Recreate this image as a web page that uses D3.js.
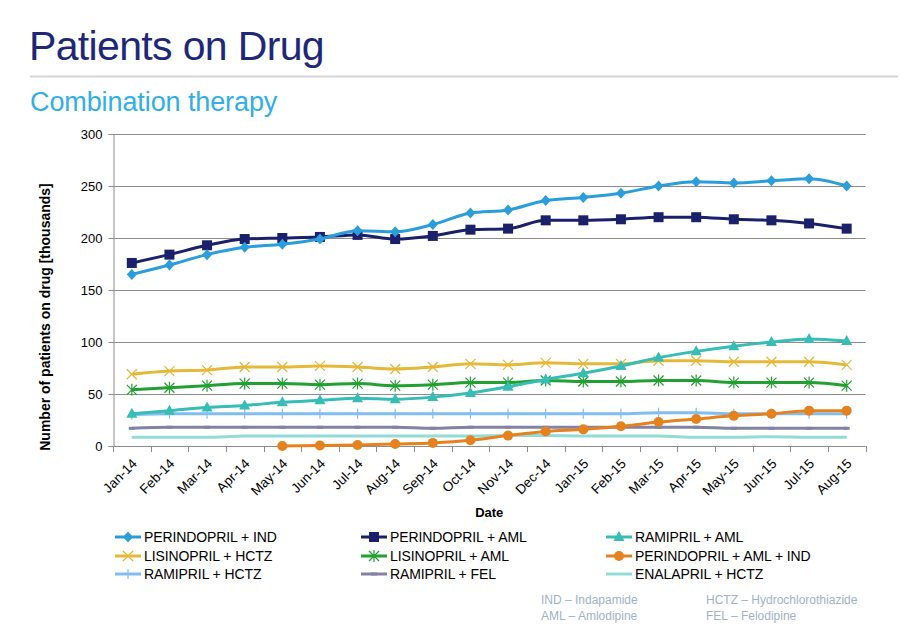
<!DOCTYPE html>
<html><head><meta charset="utf-8">
<script src="https://cdn.jsdelivr.net/npm/d3@7"></script>
<style>body{margin:0;background:#fff;}svg{display:block;font-family:"Liberation Sans",Arial,sans-serif;}</style>
</head><body><svg id="c" width="901" height="632"></svg>
<script>
const months = ["Jan-14","Feb-14","Mar-14","Apr-14","May-14","Jun-14","Jul-14","Aug-14","Sep-14","Oct-14","Nov-14","Dec-14","Jan-15","Feb-15","Mar-15","Apr-15","May-15","Jun-15","Jul-15","Aug-15"];
const yTicks = [0,50,100,150,200,250,300];
const seriesNames = ["PERINDOPRIL + IND","PERINDOPRIL + AML","RAMIPRIL + AML","LISINOPRIL + HCTZ","LISINOPRIL + AML","PERINDOPRIL + AML + IND","RAMIPRIL + HCTZ","RAMIPRIL + FEL","ENALAPRIL + HCTZ"];
const perindoprilInd = [165,174,184,191,194,199,207,206,213,224,227,236,239,243,250,254,253,255,257,250];
const perindoprilAml = [176,184,193,199,200,201,203,199,202,208,209,217,217,218,220,220,218,217,214,209];
const ramiprilAml = [31,34,37,39,42,44,46,45,47,51,57,64,70,77,85,91,96,100,103,101];
const lisinoprilHctz = [69,72,73,76,76,77,76,74,76,79,78,80,79,79,82,82,81,81,81,78];
const lisinoprilAml = [54,56,58,60,60,59,60,58,59,61,61,63,62,62,63,63,61,61,61,58];
const perindoprilAmlInd = [null,null,null,null,0,0.5,1,2,3,5.5,10,14,16,19,23,26,29,31,34,34];
const ramiprilHctz = [30,31,31,31,31,31,31,31,31,31,31,31,31,31,32,32,31,31,31,31];
const ramiprilFel = [17,18,18,18,18,18,18,18,17,18,18,18,18,18,18,18,17,17,17,17];
const enalaprilHctz = [8.5,8.5,8.5,9.5,9.5,9.5,9.5,9.5,9.5,9.5,10,10,9.5,9.5,9.5,8.5,8.5,9,8.5,8.5];
const footnotes = [["IND – Indapamide","AML – Amlodipine"],["HCTZ – Hydrochlorothiazide","FEL – Felodipine"]];

const allValues = [perindoprilInd,perindoprilAml,ramiprilAml,lisinoprilHctz,lisinoprilAml,perindoprilAmlInd,ramiprilHctz,ramiprilFel,enalaprilHctz];
const colors = ["#2a9ddc","#1b206b","#36bdb5","#e6b838","#22a032","#e6821e","#80bdf0","#8282a5","#92dcd7"];
const markers = ["diamond","square","triangle","x","asterisk","circle","vtick","hdash","none"];

const svg = d3.select("#c");
// Title
svg.append("text").attr("x",29).attr("y",60).attr("fill","#1e2878").attr("font-size",41).attr("letter-spacing",-0.65).text("Patients on Drug");
svg.append("line").attr("x1",30).attr("x2",898).attr("y1",76.5).attr("y2",76.5).attr("stroke","#d4d4d4").attr("stroke-width",2);
svg.append("text").attr("x",30).attr("y",111).attr("fill","#30aee8").attr("font-size",27).attr("letter-spacing",-0.1).text("Combination therapy");

const m = {l:113,r:865.5,t:134,b:446};
const x = d3.scaleBand().domain(months).range([m.l,m.r]);
const y = d3.scaleLinear().domain([0,300]).range([m.b,m.t]);

// Grid
svg.append("g").selectAll("line").data(yTicks.filter(d=>d>0)).join("line")
  .attr("x1",m.l).attr("x2",m.r).attr("y1",d=>Math.round(y(d))+0.5).attr("y2",d=>Math.round(y(d))+0.5)
  .attr("stroke","#8c8c8c").attr("stroke-width",1);

// Y axis
const ya = svg.append("g").attr("transform",`translate(${m.l+0.5},0)`)
  .call(d3.axisLeft(y).tickValues(yTicks).tickSize(5).tickPadding(6));
ya.select(".domain").attr("stroke","#8c8c8c");
ya.selectAll(".tick line").attr("stroke","#8c8c8c");
ya.selectAll("text").attr("font-size",13).attr("fill","#000").attr("font-family","Liberation Sans, Arial");

// X axis
const xa = svg.append("g").attr("transform",`translate(0,${m.b+0.5})`)
  .call(d3.axisBottom(x).tickSize(0).tickPadding(0));
xa.select(".domain").attr("stroke","#8c8c8c").attr("d",`M${m.l},0H${m.r}`);
xa.selectAll(".tick text").attr("font-size",13.5).attr("fill","#000").attr("font-family","Liberation Sans, Arial")
  .attr("text-anchor","end").attr("dy",0).attr("y",0)
  .attr("transform",`translate(6,18) rotate(-45)`);
// boundary ticks
svg.append("g").selectAll("line").data(d3.range(months.length+1)).join("line")
  .attr("x1",i=>Math.round(m.l+i*x.step())+0.5).attr("x2",i=>Math.round(m.l+i*x.step())+0.5)
  .attr("y1",m.b).attr("y2",m.b+6).attr("stroke","#8c8c8c");

svg.append("text").attr("x",(m.l+m.r)/2).attr("y",517).attr("text-anchor","middle").attr("font-size",13).attr("font-weight","bold").text("Date");
svg.append("text").attr("transform",`translate(50,317) rotate(-90)`).attr("text-anchor","middle").attr("font-size",14).attr("font-weight","bold").text("Number of patients on drug [thousands]");

function drawMarker(g, type, color, cx, cy) {
  if (type==="diamond") g.append("path").attr("d",`M${cx},${cy-5.5}L${cx+5},${cy}L${cx},${cy+5.5}L${cx-5},${cy}Z`).attr("fill",color);
  else if (type==="square") g.append("rect").attr("x",cx-5).attr("y",cy-5).attr("width",10).attr("height",10).attr("fill",color);
  else if (type==="triangle") g.append("path").attr("d",`M${cx},${cy-6}L${cx+5.5},${cy+4}L${cx-5.5},${cy+4}Z`).attr("fill",color);
  else if (type==="circle") g.append("circle").attr("cx",cx).attr("cy",cy).attr("r",5).attr("fill",color);
  else if (type==="x") g.append("path").attr("d",`M${cx-5},${cy-5}L${cx+5},${cy+5}M${cx-5},${cy+5}L${cx+5},${cy-5}`).attr("stroke",color).attr("stroke-width",1.2).attr("fill","none");
  else if (type==="asterisk") g.append("path").attr("d",`M${cx-5},${cy-5}L${cx+5},${cy+5}M${cx-5},${cy+5}L${cx+5},${cy-5}M${cx},${cy-6}L${cx},${cy+6}`).attr("stroke",color).attr("stroke-width",1.2).attr("fill","none");
  else if (type==="vtick") g.append("path").attr("d",`M${cx},${cy-5}L${cx},${cy+5}`).attr("stroke",color).attr("stroke-width",1.2);
  else if (type==="hdash") g.append("path").attr("d",`M${cx-3},${cy}L${cx+3},${cy}`).attr("stroke",color).attr("stroke-width",3);
}

const line = d3.line().defined(d=>d.v!==null).x(d=>x(d.m)+x.bandwidth()/2).y(d=>y(d.v)).curve(d3.curveMonotoneX);
const plot = svg.append("g");
for (let k = allValues.length-1; k>=0; k--) {
  const data = months.map((mo,i)=>({m:mo,v:allValues[k][i]}));
  const g = plot.append("g");
  g.append("path").datum(data).attr("d",line).attr("fill","none").attr("stroke",colors[k]).attr("stroke-width",3).attr("stroke-linejoin","round");
  data.filter(d=>d.v!==null).forEach(d=>drawMarker(g,markers[k],colors[k],x(d.m)+x.bandwidth()/2,y(d.v)));
}

// Legend
const legCols = [115,361,606];
const legRows = [537,556,574];
seriesNames.forEach((name,i)=>{
  const cx = legCols[i%3], cy = legRows[Math.floor(i/3)];
  const g = svg.append("g");
  g.append("line").attr("x1",cx).attr("x2",cx+26).attr("y1",cy).attr("y2",cy).attr("stroke",colors[i]).attr("stroke-width",3);
  drawMarker(g,markers[i],colors[i],cx+13,cy);
  g.append("text").attr("x",cx+29).attr("y",cy+5).attr("font-size",14).attr("letter-spacing",-0.1).attr("fill","#000").text(name);
});

// Footnotes
const fnX = [541,706];
footnotes.forEach((col,ci)=>col.forEach((t,ri)=>{
  svg.append("text").attr("x",fnX[ci]).attr("y",604+ri*16).attr("font-size",12).attr("fill","#9fb3c8").text(t);
}));
</script></body></html>
